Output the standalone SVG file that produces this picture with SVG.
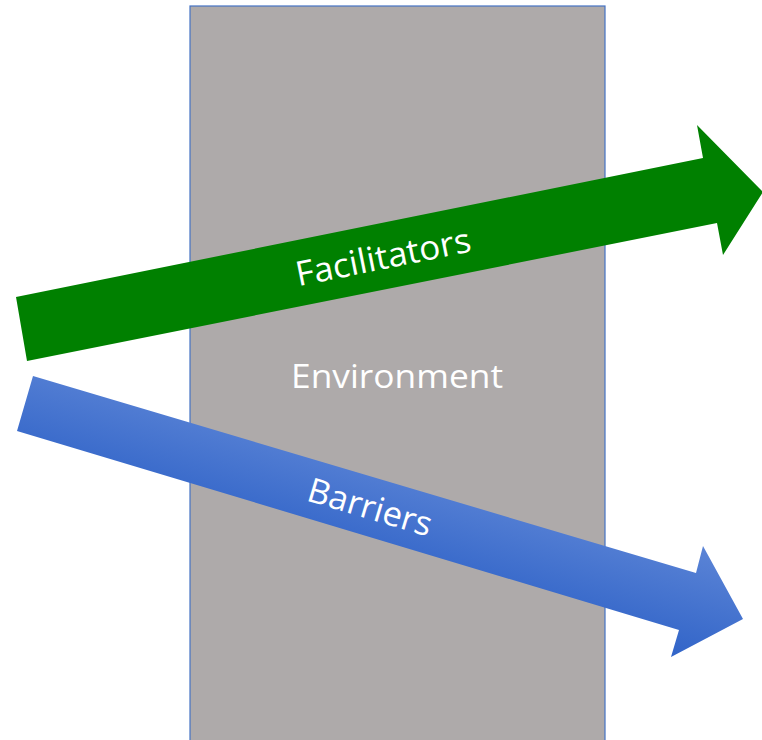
<svg xmlns="http://www.w3.org/2000/svg" width="762" height="740" viewBox="0 0 762 740">
<style>
.lbl{font-family:"Open Sans","Liberation Sans",sans-serif;fill:#ffffff;text-anchor:middle}
</style>
<defs>
<linearGradient id="blueGrad" gradientUnits="userSpaceOnUse" x1="380" y1="449" x2="347" y2="560">
<stop offset="0" stop-color="#5b84d6"/>
<stop offset="1" stop-color="#3164c8"/>
</linearGradient>
</defs>
<rect width="762" height="740" fill="#ffffff"/>
<g id="environment">
<rect x="190" y="6" width="415" height="740" fill="#aeaaaa" stroke="#4472c4" stroke-width="1.2"/>
<text class="lbl" x="397" y="388" font-size="33" textLength="212" lengthAdjust="spacingAndGlyphs">Environment</text>
</g>
<g id="connectors">
<g id="facilitators">
<polygon points="16,297 703,158 697,125 763,192 723,255 717,223 27,361" fill="#008000"/>
<text class="lbl" x="383" y="269" font-size="34" textLength="178" lengthAdjust="spacingAndGlyphs" transform="rotate(-11.4 383 257)">Facilitators</text>
</g>
<g id="barriers">
<polygon points="33,376 696,573 703,546 743,619 671,657 679,630 17,431" fill="url(#blueGrad)"/>
<text class="lbl" x="370" y="519" font-size="34" textLength="128" lengthAdjust="spacingAndGlyphs" transform="rotate(16.6 370 507)">Barriers</text>
</g>
</g>
</svg>
